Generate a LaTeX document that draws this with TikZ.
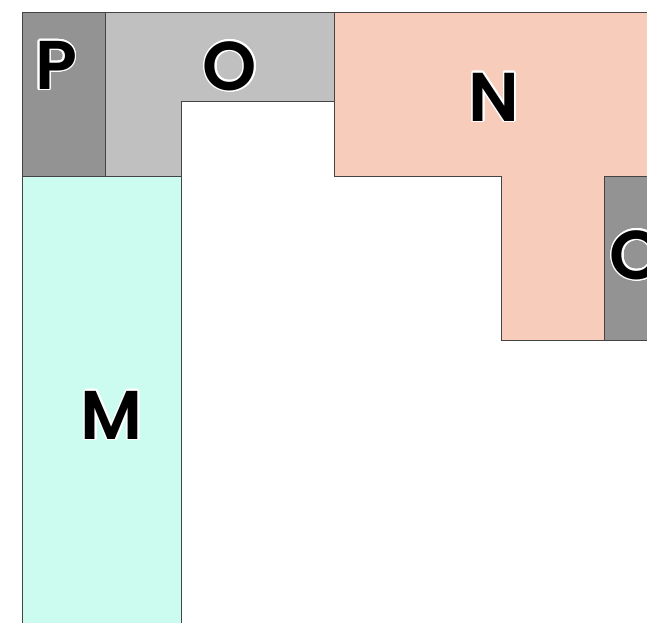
\documentclass[tikz,border=0pt]{standalone}
\usepackage{fontspec}
\newfontfamily\labelfont{Poppins}[UprightFont=* SemiBold]
\newcommand\haloed[1]{%
  \leavevmode
  \foreach \a in {0,20,...,340}{%
    \pgfmathsetlengthmacro\dx{1.6pt*cos(\a)}%
    \pgfmathsetlengthmacro\dy{1.6pt*sin(\a)}%
    \rlap{\kern\dx\raisebox{\dy}{\color{white}#1}}}%
  #1}
\definecolor{darkgrey}{HTML}{939393}
\definecolor{lightgrey}{HTML}{C0C0C0}
\definecolor{salmon}{HTML}{F8CCBA}
\definecolor{mint}{HTML}{CCFCF0}
\definecolor{edge}{HTML}{444444}
\tikzset{
  region/.style={draw=edge, line width=1pt},
  tag/.style={inner sep=0pt, font=\labelfont\fontsize{69}{69}\selectfont}
}
\begin{document}
\begin{tikzpicture}[x=1pt,y=-1pt]
\useasboundingbox (0,0) rectangle (647,622);
\clip (0,0) rectangle (647,622);
% regions
\draw[region, fill=mint] (22,176) -- (22,640) -- (181,640) -- (181,176) -- cycle;
\draw[region, fill=darkgrey] (22,12) rectangle (105,176);
\draw[region, fill=lightgrey] (105,12) -- (334,12) -- (334,101) -- (181,101) -- (181,176) -- (105,176) -- cycle;
\draw[region, fill=salmon] (334,12) -- (660,12) -- (660,176) -- (604,176) -- (604,340) -- (501,340) -- (501,176) -- (334,176) -- cycle;
\draw[region, fill=darkgrey] (604,176) rectangle (660,340);
% labels
\node[tag] (p) at (56,65) {\haloed{P}};
\node[tag] (o) at (230,66) {\haloed{O}};
\node[tag] (n) at (494,97) {\haloed{N}};
\node[tag] (m) at (112,415) {\haloed{M}};
\node[tag] (o2) at (637,255) {\haloed{O}};
\end{tikzpicture}
\end{document}
